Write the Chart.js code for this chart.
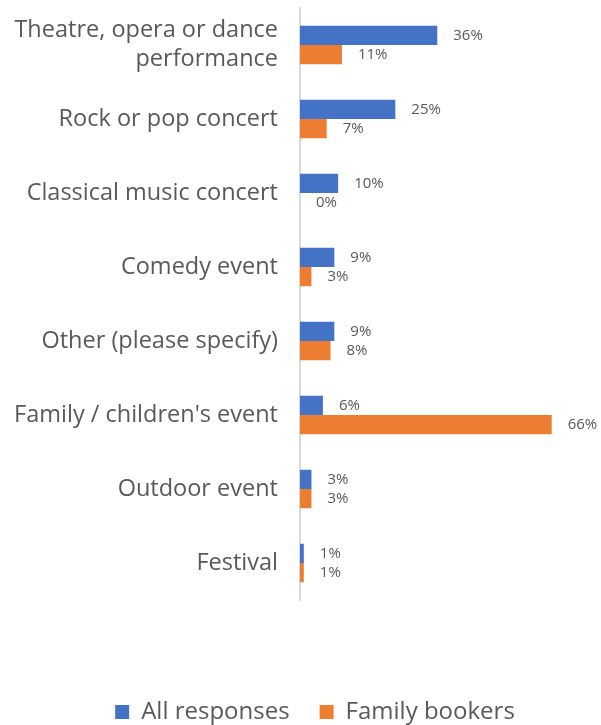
<!DOCTYPE html>
<html>
<head>
<meta charset="utf-8">
<script src="https://cdn.jsdelivr.net/npm/chart.js@4/dist/chart.umd.min.js"></script>
<style>
  html, body { margin: 0; padding: 0; background: #fff; }
  #wrap { width: 601px; height: 725px; }
</style>
</head>
<body>
<div id="wrap"><canvas id="eventsChart"></canvas></div>
<script>
const categories = [
    ['Theatre, opera or dance', 'performance'],
    'Rock or pop concert',
    'Classical music concert',
    'Comedy event',
    'Other (please specify)',
    "Family / children's event",
    'Outdoor event',
    'Festival'
];
const allResponses = [36, 25, 10, 9, 9, 6, 3, 1];
const familyBookers = [11, 7, 0, 3, 8, 66, 3, 1];

const textColor = '#595959';
const fontFamily = '"Open Sans", "Noto Sans", sans-serif';

// percentage labels to the right of each bar
const barValueLabels = {
    id: 'barValueLabels',
    afterDatasetsDraw(chart) {
        const c = chart.ctx;
        c.save();
        c.font = '15px ' + fontFamily;
        c.fillStyle = textColor;
        c.textAlign = 'left';
        c.textBaseline = 'middle';
        chart.data.datasets.forEach(function(ds, i) {
            chart.getDatasetMeta(i).data.forEach(function(bar, j) {
                c.fillText(ds.data[j] + '%', bar.x + 16, bar.y);
            });
        });
        c.restore();
    }
};

// nudge the legend a little to the right, under the bars
const legendShift = {
    id: 'legendShift',
    afterLayout(chart) {
        if (chart.legend) {
            chart.legend.left += 22;
            chart.legend.right += 22;
        }
    }
};

document.addEventListener('DOMContentLoaded', function() {
    const ctx = document.getElementById('eventsChart');
    new Chart(ctx.getContext('2d'), {
        type: 'bar',
        data: {
            labels: categories,
            datasets: [
                {
                    label: 'All responses',
                    data: allResponses,
                    backgroundColor: '#4472C4',
                    categoryPercentage: 0.52,
                    barPercentage: 1
                },
                {
                    label: 'Family bookers',
                    data: familyBookers,
                    backgroundColor: '#ED7D31',
                    categoryPercentage: 0.52,
                    barPercentage: 1
                }
            ]
        },
        options: {
            indexAxis: 'y',
            responsive: true,
            maintainAspectRatio: false,
            animation: false,
            layout: {
                padding: { top: 8, left: 0, right: 15, bottom: -9 }
            },
            scales: {
                x: {
                    min: 0,
                    max: 75,
                    ticks: { display: false },
                    grid: { display: false, drawTicks: false },
                    border: { display: false },
                    afterFit: function(scale) { scale.height = 70; }
                },
                y: {
                    ticks: {
                        color: textColor,
                        padding: 22,
                        font: { family: fontFamily, size: 23.5, lineHeight: 1.25 }
                    },
                    grid: { display: false, drawTicks: false },
                    border: { display: true, color: '#D9D9D9', width: 2 },
                    afterFit: function(scale) {
                        scale.width = 300;
                        scale.paddingTop = 0;
                        scale.paddingBottom = 0;
                    }
                }
            },
            plugins: {
                legend: {
                    position: 'bottom',
                    labels: {
                        color: textColor,
                        boxWidth: 14,
                        boxHeight: 14,
                        padding: 30,
                        font: { family: fontFamily, size: 24 }
                    }
                },
                tooltip: { enabled: false }
            }
        },
        plugins: [barValueLabels, legendShift]
    });
});
</script>
</body>
</html>
